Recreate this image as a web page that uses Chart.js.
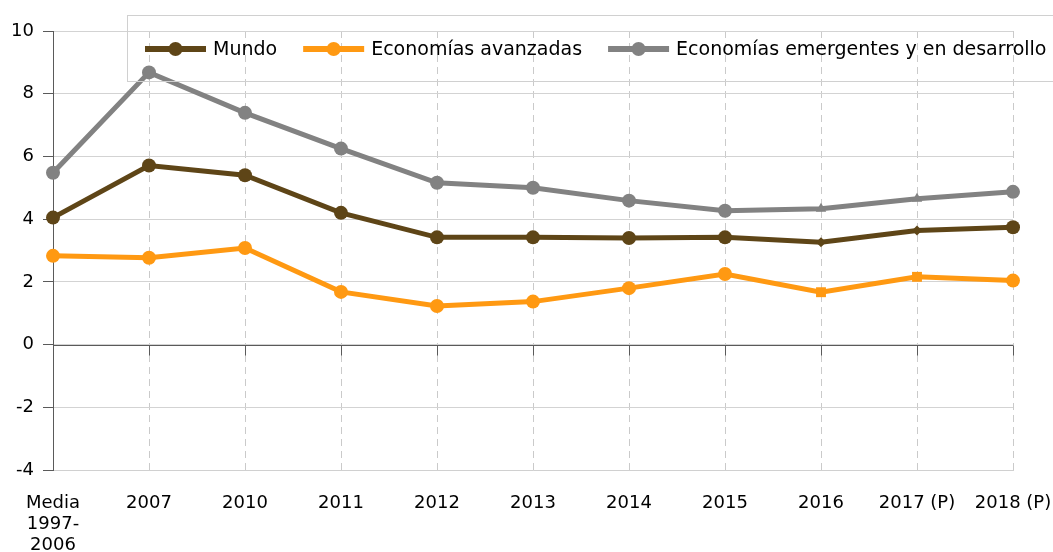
<!DOCTYPE html>
<html>
<head>
<meta charset="utf-8">
<script src="https://cdn.jsdelivr.net/npm/chart.js@4.4.0/dist/chart.umd.min.js"></script>
<style>
html,body{margin:0;padding:0;background:#fff;}
#wrap{width:1053px;height:552px;position:relative;}
</style>
</head>
<body>
<div id="wrap"><canvas id="c" width="1053" height="552"></canvas></div>
<script>
const categories = [['Media','1997-','2006'],'2007','2010','2011','2012','2013','2014','2015','2016','2017 (P)','2018 (P)'];
const mundo = [4.05, 5.71, 5.40, 4.20, 3.42, 3.42, 3.40, 3.42, 3.26, 3.64, 3.74];
const avanzadas = [2.83, 2.77, 3.08, 1.68, 1.23, 1.37, 1.80, 2.25, 1.67, 2.16, 2.04];
const emergentes = [5.48, 8.68, 7.39, 6.25, 5.16, 5.00, 4.59, 4.27, 4.33, 4.65, 4.87];
const seriesNames = ['Mundo','Economías avanzadas','Economías emergentes y en desarrollo'];
const yTicks = [-4,-2,0,2,4,6,8,10];

const FONT = 'DejaVu Sans';
const cBrown = '#5e4517', cOrange = '#ff9912', cGrey = '#828282';

function styles(special){
  return categories.map((_,i)=> (i===8||i===9) ? special : 'circle');
}
function radii(r, rs){ return categories.map((_,i)=> (i===8||i===9) ? rs : r); }

const legendPlugin = {
  id:'customLegend',
  afterDraw(chart){
    const ctx = chart.ctx;
    ctx.save();
    ctx.strokeStyle = '#d0d0d0';
    ctx.lineWidth = 1;
    ctx.strokeRect(127.5, 15.5, 1000, 66);
    ctx.font = '19px "' + FONT + '"';
    ctx.textBaseline = 'middle';
    let x = 145;
    const y = 49;
    chart.data.datasets.forEach(ds=>{
      ctx.strokeStyle = ds.borderColor;
      ctx.lineWidth = 6;
      ctx.beginPath(); ctx.moveTo(x,y); ctx.lineTo(x+61,y); ctx.stroke();
      ctx.fillStyle = ds.borderColor;
      ctx.beginPath(); ctx.arc(x+30.5,y,7,0,Math.PI*2); ctx.fill();
      ctx.fillStyle = '#000';
      ctx.fillText(ds.label, x+68, y+1);
      x += 68 + ctx.measureText(ds.label).width + 26;
    });
    ctx.restore();
  }
};

const zeroLinePlugin = {
  id:'zeroLine',
  beforeDatasetsDraw(chart){
    const ctx = chart.ctx, xs = chart.scales.x, ys = chart.scales.y;
    const y0 = Math.round(ys.getPixelForValue(0)) + 0.5;
    ctx.save();
    ctx.strokeStyle = '#5a5a5a';
    ctx.lineWidth = 1;
    ctx.beginPath();
    ctx.moveTo(chart.chartArea.left, y0); ctx.lineTo(chart.chartArea.right, y0);
    for(let i=0;i<categories.length;i++){
      const px = Math.round(xs.getPixelForValue(i)) + 0.5;
      ctx.moveTo(px, y0); ctx.lineTo(px, y0+10);
    }
    ctx.stroke();
    ctx.restore();
  }
};

new Chart(document.getElementById('c'), {
  type:'line',
  data:{
    labels: categories,
    datasets:[
      {label:seriesNames[0], data:mundo, borderColor:cBrown, backgroundColor:cBrown, borderWidth:5,
       pointStyle:styles('rectRot'), pointRadius:radii(7,5), pointBorderWidth:0, tension:0},
      {label:seriesNames[1], data:avanzadas, borderColor:cOrange, backgroundColor:cOrange, borderWidth:5,
       pointStyle:styles('rect'), pointRadius:radii(7,7), pointBorderWidth:0, tension:0},
      {label:seriesNames[2], data:emergentes, borderColor:cGrey, backgroundColor:cGrey, borderWidth:5,
       pointStyle:styles('triangle'), pointRadius:radii(7,6), pointBorderWidth:0, tension:0}
    ]
  },
  options:{
    responsive:false,
    animation:false,
    devicePixelRatio:1,
    layout:{padding:{top:31,right:40,left:0,bottom:0}},
    plugins:{legend:{display:false}, tooltip:{enabled:false}},
    scales:{
      x:{
        offset:false,
        grid:{color:'#cacaca', lineWidth:1, drawTicks:false},
        border:{display:true, color:'#d0d0d0', dash:[7,5]},
        ticks:{color:'#000', font:{family:FONT, size:18, lineHeight:1.17}, padding:23, maxRotation:0, autoSkip:false},
        afterFit(s){ s.height = 82; s.paddingLeft = 0; s.paddingRight = 0; }
      },
      y:{
        min:-4, max:10,
        afterBuildTicks(s){ s.ticks = yTicks.map(v=>({value:v})); },
        grid:{color:'#d3d3d3', lineWidth:1, tickLength:10, tickColor:'#5a5a5a'},
        border:{display:true, color:'#5a5a5a', width:1},
        ticks:{color:'#000', font:{family:FONT, size:18}, padding:9},
        afterFit(s){ s.width = 53; s.paddingTop = 0; s.paddingBottom = 0; }
      }
    }
  },
  plugins:[zeroLinePlugin, legendPlugin]
});
</script>
</body>
</html>
